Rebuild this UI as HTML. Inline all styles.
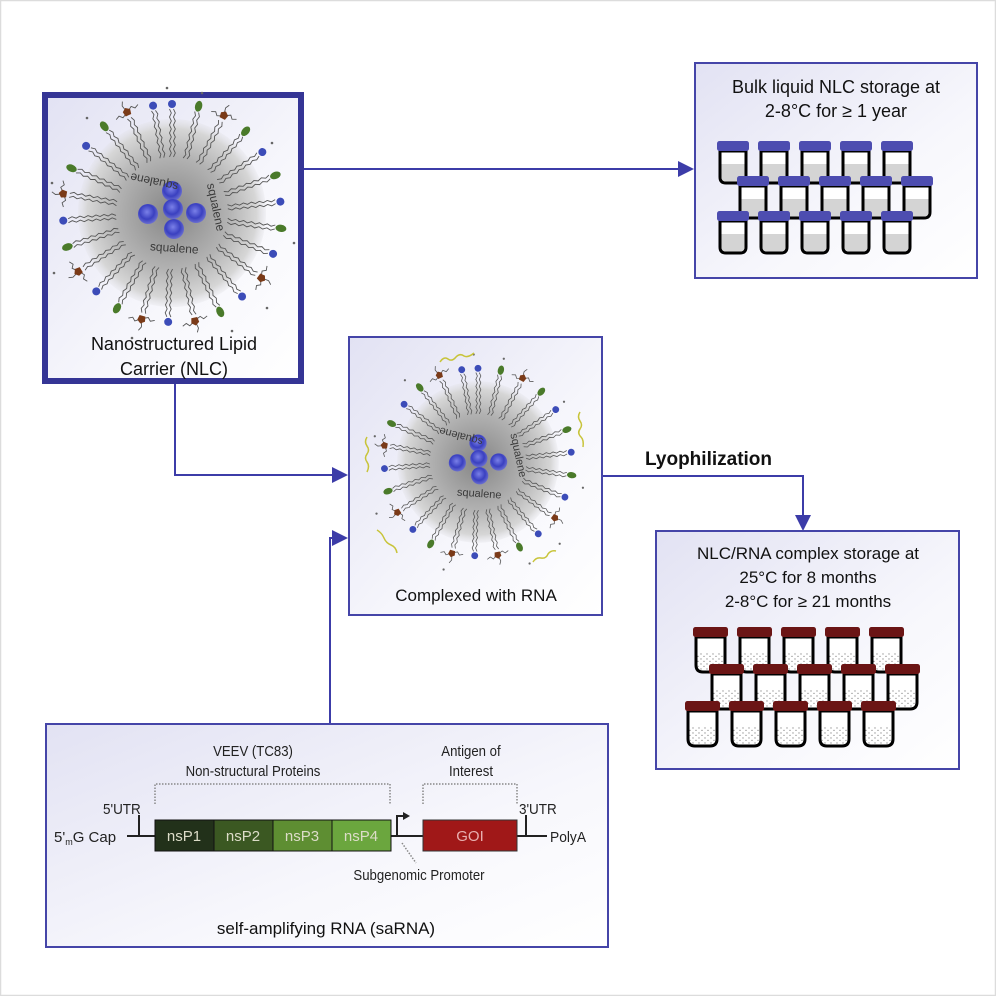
<!DOCTYPE html>
<html><head><meta charset="utf-8"><style>
html,body{margin:0;padding:0;background:#fff;}
svg{display:block;}
text{font-family:"Liberation Sans",Arial,sans-serif;}
</style></head><body>
<svg width="996" height="996" viewBox="0 0 996 996" xmlns="http://www.w3.org/2000/svg">
<defs>
<linearGradient id="bg" x1="0" y1="0" x2="1" y2="1">
<stop offset="0" stop-color="#e2e2f3"/><stop offset="0.6" stop-color="#f7f7fc"/><stop offset="1" stop-color="#ffffff"/>
</linearGradient>
<radialGradient id="sph" cx="0.5" cy="0.5" r="0.5">
<stop offset="0" stop-color="#858585"/><stop offset="0.6" stop-color="#b2b2b2"/><stop offset="0.9" stop-color="#d6d6d6"/><stop offset="1" stop-color="#e0e0e4" stop-opacity="0.3"/>
</radialGradient>
<radialGradient id="blob" cx="0.45" cy="0.4" r="0.6">
<stop offset="0" stop-color="#7a80e8"/><stop offset="0.6" stop-color="#3a40c0"/><stop offset="1" stop-color="#6a6ed0"/>
</radialGradient>
<path id="tail" d="M0,-56 l1.8,-4 l-1.8,-4 l1.8,-4 l-1.8,-4 l1.8,-4 l-1.8,-4 l1.8,-4 l-1.8,-4 l1.8,-4 l-1.8,-4 l1.8,-4 l-1.8,-4" fill="none" stroke="#555" stroke-width="0.9"/>
<g id="la"><use href="#tail" x="-2.5"/><use href="#tail" x="1.5"/><circle cx="0" cy="-109" r="4" fill="#3c4cb8"/></g>
<g id="lb"><use href="#tail" x="-2.5"/><use href="#tail" x="1.5"/><ellipse cx="0" cy="-110" rx="3.6" ry="5.5" fill="#4a7a2a"/></g>
<g id="lc"><use href="#tail" x="-2.5"/><use href="#tail" x="1.5"/><path d="M0,-110 l-6,3 l-3,-3 l-4,2 M0,-110 l6,-4 l3,3 l4,-2 M0,-110 l-2,-8 l2,-4" fill="none" stroke="#555" stroke-width="0.9"/><polygon points="0,-115 4,-112 3,-107 -3,-107 -4,-112" fill="#7a3a18"/></g>
<g id="vialP">
<path d="M3,10 L3,36 Q3,42 9,42 L23,42 Q29,42 29,36 L29,10 Z" fill="#fff" stroke="#000" stroke-width="3"/>
<path d="M4.5,23 L27.5,23 L27.5,36 Q27.5,40.5 23,40.5 L9,40.5 Q4.5,40.5 4.5,36 Z" fill="#d4d4d4"/>
<rect x="0" y="0" width="32" height="10" rx="2.5" fill="#4d4db0"/>
</g>
<pattern id="dots" width="6" height="5" patternUnits="userSpaceOnUse"><circle cx="2" cy="2" r="0.7" fill="#999"/><circle cx="5" cy="4.5" r="0.7" fill="#999"/></pattern>
<g id="vialR">
<path d="M3,10 L3,38 Q3,45 10,45 L25,45 Q32,45 32,38 L32,10 Z" fill="#fff" stroke="#000" stroke-width="3"/>
<path d="M4.5,26 L30.5,26 L30.5,38 Q30.5,43.5 25,43.5 L10,43.5 Q4.5,43.5 4.5,38 Z" fill="url(#dots)"/>
<rect x="0" y="0" width="35" height="10" rx="2.5" fill="#6b1515"/>
</g>
<g id="particle">
<circle r="94" fill="url(#sph)"/>
<use href="#la" transform="rotate(0)"/><use href="#lb" transform="rotate(14)"/><use href="#lc" transform="rotate(28)"/>
<use href="#lb" transform="rotate(42)"/><use href="#la" transform="rotate(56)"/><use href="#lb" transform="rotate(70)"/>
<use href="#la" transform="rotate(84)"/><use href="#lb" transform="rotate(98)"/><use href="#la" transform="rotate(112)"/>
<use href="#lc" transform="rotate(126)"/><use href="#la" transform="rotate(140)"/><use href="#lb" transform="rotate(154)"/>
<use href="#lc" transform="rotate(168)"/><use href="#la" transform="rotate(182)"/><use href="#lc" transform="rotate(196)"/>
<use href="#lb" transform="rotate(210)"/><use href="#la" transform="rotate(224)"/><use href="#lc" transform="rotate(238)"/>
<use href="#lb" transform="rotate(252)"/><use href="#la" transform="rotate(266)"/><use href="#lc" transform="rotate(280)"/>
<use href="#lb" transform="rotate(294)"/><use href="#la" transform="rotate(308)"/><use href="#lb" transform="rotate(322)"/>
<use href="#lc" transform="rotate(336)"/><use href="#la" transform="rotate(350)"/>
<circle cx="0" cy="-22" r="10" fill="url(#blob)"/><circle cx="-24" cy="1" r="10" fill="url(#blob)"/>
<circle cx="1" cy="-4" r="10" fill="url(#blob)"/><circle cx="24" cy="0" r="10" fill="url(#blob)"/>
<circle cx="2" cy="16" r="10" fill="url(#blob)"/>
<g fill="#666"><circle cx="-85" cy="-95" r="1.3"/><circle cx="30" cy="-120" r="1.3"/><circle cx="100" cy="-70" r="1.3"/><circle cx="122" cy="30" r="1.3"/><circle cx="95" cy="95" r="1.3"/><circle cx="-40" cy="125" r="1.3"/><circle cx="-118" cy="60" r="1.3"/><circle cx="-120" cy="-30" r="1.3"/><circle cx="-5" cy="-125" r="1.3"/><circle cx="60" cy="118" r="1.3"/></g>
</g>
</defs>

<rect x="0.5" y="0.5" width="995" height="995" fill="#fff" stroke="#dcdcdc" stroke-width="1.5"/>

<g stroke="#3c3ca8" stroke-width="2" fill="none">
<path d="M304,169 H680"/>
<path d="M175,384 V475 H336"/>
<path d="M330,723 V538 H336"/>
<path d="M602,476 H803 V518"/>
</g>
<g fill="#3c3ca8">
<polygon points="694,169 678,161 678,177"/>
<polygon points="348,475 332,467 332,483"/>
<polygon points="348,538 332,530 332,546"/>
<polygon points="803,531 795,515 811,515"/>
</g>

<rect x="45" y="95" width="256" height="286" fill="url(#bg)" stroke="#353595" stroke-width="6"/>
<use href="#particle" transform="translate(172,213)"/>
<g font-size="12" fill="#3a3a3a">
<text transform="translate(174,252) rotate(4)" text-anchor="middle">squalene</text>
<text transform="translate(155,178) rotate(192)" text-anchor="middle">squalene</text>
<text transform="translate(212,208) rotate(78)" text-anchor="middle">squalene</text>
</g>
<text x="174" y="350" font-size="18" text-anchor="middle" fill="#111">Nanostructured Lipid</text>
<text x="174" y="375" font-size="18" text-anchor="middle" fill="#111">Carrier (NLC)</text>

<rect x="695" y="63" width="282" height="215" fill="url(#bg)" stroke="#4545a8" stroke-width="2"/>
<text x="836" y="93" font-size="18" text-anchor="middle" fill="#111">Bulk liquid NLC storage at</text>
<text x="836" y="117" font-size="18" text-anchor="middle" fill="#111">2-8°C for ≥ 1 year</text>
<g>
<use href="#vialP" x="717" y="141"/><use href="#vialP" x="758" y="141"/><use href="#vialP" x="799" y="141"/><use href="#vialP" x="840" y="141"/><use href="#vialP" x="881" y="141"/>
<use href="#vialP" x="737" y="176"/><use href="#vialP" x="778" y="176"/><use href="#vialP" x="819" y="176"/><use href="#vialP" x="860" y="176"/><use href="#vialP" x="901" y="176"/>
<use href="#vialP" x="717" y="211"/><use href="#vialP" x="758" y="211"/><use href="#vialP" x="799" y="211"/><use href="#vialP" x="840" y="211"/><use href="#vialP" x="881" y="211"/>
</g>

<rect x="349" y="337" width="253" height="278" fill="url(#bg)" stroke="#4545a8" stroke-width="2"/>
<use href="#particle" transform="translate(478,462) scale(0.86)"/>
<g font-size="11" fill="#3a3a3a">
<text transform="translate(479,497) rotate(4)" text-anchor="middle">squalene</text>
<text transform="translate(462,433) rotate(195)" text-anchor="middle">squalene</text>
<text transform="translate(515,456) rotate(78)" text-anchor="middle">squalene</text>
</g>
<g stroke="#c8c43a" stroke-width="1.5" fill="none">
<path d="M440,362 q4,-6 8,-3 q4,3 8,-2 q4,-4 8,-1 q4,2 10,-3"/>
<path d="M580,412 q-3,5 0,9 q3,4 0,8 q-3,4 1,8 q3,3 2,10"/>
<path d="M367,437 q-3,5 0,9 q3,4 0,8 q-3,4 0,8 q3,4 0,10"/>
<path d="M377,530 q5,3 7,8 q2,5 7,7 q5,2 6,8"/>
<path d="M533,562 q3,-5 8,-4 q5,1 7,-4 q3,-4 8,-3"/>
</g>
<text x="476" y="601" font-size="17" text-anchor="middle" fill="#111">Complexed with RNA</text>

<text x="645" y="465" font-size="19" font-weight="bold" fill="#111">Lyophilization</text>

<rect x="656" y="531" width="303" height="238" fill="url(#bg)" stroke="#4545a8" stroke-width="2"/>
<text x="808" y="559" font-size="17" text-anchor="middle" fill="#111">NLC/RNA complex storage at</text>
<text x="808" y="583" font-size="17" text-anchor="middle" fill="#111">25°C for 8 months</text>
<text x="808" y="607" font-size="17" text-anchor="middle" fill="#111">2-8°C for ≥ 21 months</text>
<g>
<use href="#vialR" x="693" y="627"/><use href="#vialR" x="737" y="627"/><use href="#vialR" x="781" y="627"/><use href="#vialR" x="825" y="627"/><use href="#vialR" x="869" y="627"/>
<use href="#vialR" x="709" y="664"/><use href="#vialR" x="753" y="664"/><use href="#vialR" x="797" y="664"/><use href="#vialR" x="841" y="664"/><use href="#vialR" x="885" y="664"/>
<use href="#vialR" x="685" y="701"/><use href="#vialR" x="729" y="701"/><use href="#vialR" x="773" y="701"/><use href="#vialR" x="817" y="701"/><use href="#vialR" x="861" y="701"/>
</g>

<rect x="46" y="724" width="562" height="223" fill="url(#bg)" stroke="#4545a8" stroke-width="2"/>
<g font-size="15" fill="#222" text-anchor="middle">
<text x="253" y="756" transform="translate(253,0) scale(0.88,1) translate(-253,0)">VEEV (TC83)</text>
<text x="253" y="776" transform="translate(253,0) scale(0.88,1) translate(-253,0)">Non-structural Proteins</text>
<text x="471" y="756" transform="translate(471,0) scale(0.88,1) translate(-471,0)">Antigen of</text>
<text x="471" y="776" transform="translate(471,0) scale(0.88,1) translate(-471,0)">Interest</text>
<text x="419" y="880" transform="translate(419,0) scale(0.88,1) translate(-419,0)">Subgenomic Promoter</text>
</g>
<g fill="none" stroke="#888" stroke-width="1.5" stroke-dasharray="1.5,1.5">
<path d="M155,804 V784 H390 V804"/>
<path d="M423,804 V784 H517 V804"/>
<path d="M402,843 L416,863"/>
</g>
<g stroke="#222" stroke-width="2" fill="none">
<path d="M127,836 H155"/><path d="M139,836 V815"/>
<path d="M391,836 H423"/><path d="M397,836 V816 H404"/>
<path d="M517,836 H547"/><path d="M526,836 V815"/>
</g>
<polygon points="410,816 403,812 403,820" fill="#222"/>
<rect x="155" y="820" width="59" height="31" fill="#22311a" stroke="#111"/>
<rect x="214" y="820" width="59" height="31" fill="#3b5822" stroke="#111"/>
<rect x="273" y="820" width="59" height="31" fill="#5e8e32" stroke="#111"/>
<rect x="332" y="820" width="59" height="31" fill="#6ba63e" stroke="#111"/>
<rect x="423" y="820" width="94" height="31" fill="#a01818" stroke="#333"/>
<g font-size="15" fill="#dcdcc8" text-anchor="middle">
<text x="184" y="841">nsP1</text><text x="243" y="841">nsP2</text><text x="302" y="841">nsP3</text><text x="361" y="841">nsP4</text>
<text x="470" y="841" fill="#e8b0b0">GOI</text>
</g>
<g font-size="15" fill="#222">
<text x="103" y="814" transform="translate(103,0) scale(0.9,1) translate(-103,0)">5'UTR</text>
<text x="519" y="814" transform="translate(519,0) scale(0.9,1) translate(-519,0)">3'UTR</text>
<text x="54" y="842">5'<tspan font-size="9" dy="3">m</tspan><tspan dy="-3">G Cap</tspan></text>
<text x="550" y="842" transform="translate(550,0) scale(0.92,1) translate(-550,0)">PolyA</text>
</g>
<text x="326" y="934" font-size="17" text-anchor="middle" fill="#111">self-amplifying RNA (saRNA)</text>
</svg>
</body></html>
